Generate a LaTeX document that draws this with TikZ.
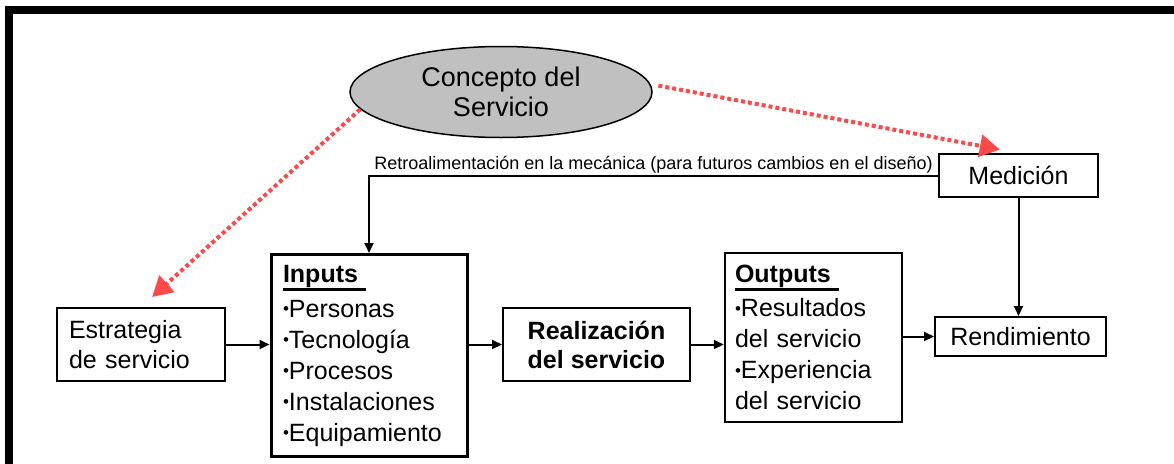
\documentclass[tikz,border=0pt]{standalone}
\usepackage{fontspec}
\setmainfont{Liberation Sans}
\usepackage{xcolor}
\usepackage{tikz}
\usetikzlibrary{arrows.meta,shapes.geometric,positioning}

\definecolor{dotred}{RGB}{255,72,72}
\definecolor{conceptgray}{RGB}{192,192,192}
\newcommand{\ulhead}[1]{\setbox0\hbox{\textbf{#1}\hspace{8pt}}\rlap{\rule[-8.5pt]{\wd0}{3pt}}\box0}
\newcommand{\bul}{\raisebox{2.5pt}{\fontsize{17}{17}\selectfont•}}

\begin{document}
\begin{tikzpicture}
      [ x=1pt, y=-1pt,
        box/.style={draw, line width=2pt, inner sep=0pt, font=\fontsize{25}{30}\selectfont},
        arr/.style={-{Triangle[length=10pt,width=9pt]}, line width=2pt},
        dots/.style={draw=dotred, line width=4pt, dash pattern=on 4pt off 3pt,
                     -{Triangle[length=20pt,width=22pt]}}
      ]
      \useasboundingbox (0,0) rectangle (1174,463);
      \begin{scope}
        \clip (0,0) rectangle (1174,463);
        \draw[line width=8pt] (9,9.5) rectangle (1200,500);
      \end{scope}

      \node[ellipse, draw, line width=1.5pt, fill=conceptgray, inner sep=0pt,
            minimum width=302pt, minimum height=91pt, align=center,
            font=\fontsize{27}{30}\selectfont]          (concept) at (501,92)      {Concepto del\\Servicio};
      \node[box, text width=144pt, inner xsep=12pt, minimum height=73pt,
            align=left]                                 (estr)    at (141,344.5)   {Estrategia\\de servicio};
      \node[box, line width=3pt, text width=172pt, inner xsep=12pt,
            minimum height=202pt, align=left,
            font=\fontsize{25}{31}\selectfont]          (inp)     at (369,355.5)   {\ulhead{Inputs}\\[4pt]
            \bul Personas\\ \bul Tecnología\\ \bul Procesos\\ \bul Instalaciones\\ \bul Equipamiento};
      \node[box, minimum width=187pt, minimum height=73pt, align=center,
            font=\bfseries\fontsize{25}{29}\selectfont] (real)    at (596.5,344.5) {Realización\\del servicio};
      \node[box, line width=2.5pt, text width=157pt, inner xsep=10pt,
            minimum height=169pt, align=left,
            font=\fontsize{25}{31}\selectfont]          (out)     at (813.5,337.5) {\ulhead{Outputs}\\[3pt]
            \bul Resultados\\del servicio\\ \bul Experiencia\\del servicio};
      \node[box, minimum width=171pt, minimum height=39pt] (rend) at (1020.5,336.5) {Rendimiento};
      \node[box, minimum width=159pt, minimum height=43pt] (med)  at (1018.5,175.5) {Medición};

      \draw[arr] (estr.east)          -- (estr.east -| inp.west);
      \draw[arr] (inp.east |- real)   -- (real.west);
      \draw[arr] (real.east)          -- (real.east -| out.west);
      \draw[arr] (rend.west -| out.east) -- (rend.west);
      \draw[arr] (med.south)          -- (med.south |- rend.north);
      \draw[arr] (med.west) -| (inp.north)
            node[pos=0.25, above, inner sep=1pt, font=\fontsize{18}{20}\selectfont]
            {Retroalimentación en la mecánica (para futuros cambios en el diseño)};

      \draw[dots, shorten >=15pt]               (concept.187) -- (estr.north);
      \draw[dots, shorten <=8pt, shorten >=19pt] (concept.3)   -- (med.north);
\end{tikzpicture}
\end{document}
